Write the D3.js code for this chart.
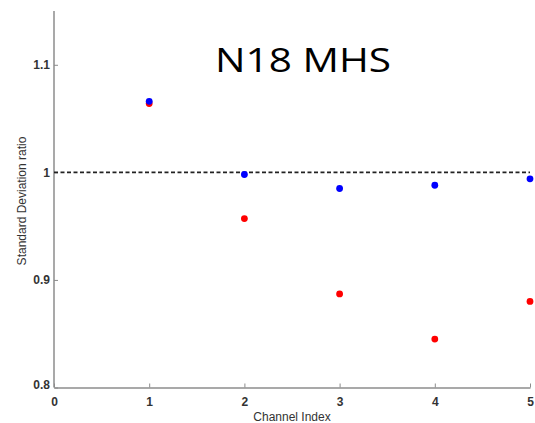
<!DOCTYPE html>
<html>
<head>
<meta charset="utf-8">
<script src="https://cdn.jsdelivr.net/npm/d3@7"></script>
<style>
  body { margin: 0; background: #fff; }
  svg { display: block; }
</style>
</head>
<body>
<svg id="chart" width="535" height="423"></svg>
<script>
// channels and the two series
var channels = [1, 2, 3, 4, 5];
var blueVals = [1.066, 0.998, 0.985, 0.988, 0.994];
var redVals = [1.064, 0.957, 0.887, 0.845, 0.880];
var xTicks = [0, 1, 2, 3, 4, 5];
var yTicks = [0.8, 0.9, 1, 1.1];
var refLine = 1;

var svg = d3.select("#chart");

var x = d3.scaleLinear().domain([0, 5]).range([54, 530]);
var y = d3.scaleLinear().domain([0.8, 1.15]).range([387.5, 11]);

// axes (left and bottom only, ticks pointing inward)
var xAxis = d3.axisBottom(x).tickValues(xTicks).tickSizeInner(-4).tickSizeOuter(0)
    .tickFormat(d3.format("d"));
var yAxis = d3.axisLeft(y).tickValues(yTicks).tickSizeInner(-4).tickSizeOuter(0)
    .tickFormat(function(d) { return d === 1 ? "1" : d3.format(".1f")(d); });

var gx = svg.append("g")
    .attr("transform", "translate(0," + y(0.8) + ")")
    .call(xAxis);
var gy = svg.append("g")
    .attr("transform", "translate(" + x(0) + ",0)")
    .call(yAxis);

[gx, gy].forEach(function(g) {
  g.select(".domain").attr("stroke", "#8c8c8c").attr("stroke-width", 1.5);
  g.selectAll(".tick line").attr("stroke", "#8c8c8c").attr("stroke-width", 1);
  g.selectAll(".tick text")
    .attr("fill", "#333")
    .attr("font-family", "Liberation Sans, Arial, sans-serif")
    .attr("font-weight", "bold")
    .style("font-size", "12px");
});
gx.selectAll(".tick text").attr("dy", "1.05em").attr("y", 6);
gy.selectAll(".tick text").attr("x", -4);
gy.selectAll(".tick").filter(function(d) { return d === 0.8; })
  .select("text").attr("dy", "0.1em");

// the y axis line extends above the last tick
gy.select(".domain").attr("d", "M0," + y(1.15) + "V" + y(0.8));

// dashed reference line at 1
svg.append("line")
  .attr("x1", x(0))
  .attr("x2", x(5))
  .attr("y1", y(refLine))
  .attr("y2", y(refLine))
  .attr("stroke", "#222")
  .attr("stroke-width", 1.6)
  .attr("stroke-dasharray", "4,2.5");

// points
svg.append("g").selectAll("circle")
  .data(redVals)
  .join("circle")
  .attr("cx", function(d, i) { return x(channels[i]); })
  .attr("cy", function(d) { return y(d); })
  .attr("r", 3.4)
  .attr("fill", "#ff0000");

svg.append("g").selectAll("circle")
  .data(blueVals)
  .join("circle")
  .attr("cx", function(d, i) { return x(channels[i]); })
  .attr("cy", function(d) { return y(d); })
  .attr("r", 3.4)
  .attr("fill", "#0000ff");

// axis labels
svg.append("text")
  .attr("x", 292)
  .attr("y", 421)
  .attr("text-anchor", "middle")
  .attr("fill", "#333")
  .attr("font-family", "Liberation Sans, Arial, sans-serif")
  .style("font-size", "12px")
  .text("Channel Index");

svg.append("text")
  .attr("transform", "translate(26,201) rotate(-90)")
  .attr("text-anchor", "middle")
  .attr("fill", "#333")
  .attr("font-family", "Liberation Sans, Arial, sans-serif")
  .style("font-size", "12px")
  .text("Standard Deviation ratio");

// title
svg.append("text")
  .attr("x", 215)
  .attr("y", 72)
  .attr("fill", "#000")
  .attr("font-family", "Open Sans, sans-serif")
  .attr("textLength", 176)
  .attr("lengthAdjust", "spacingAndGlyphs")
  .style("font-size", "33px")
  .text("N18 MHS");
</script>
</body>
</html>
